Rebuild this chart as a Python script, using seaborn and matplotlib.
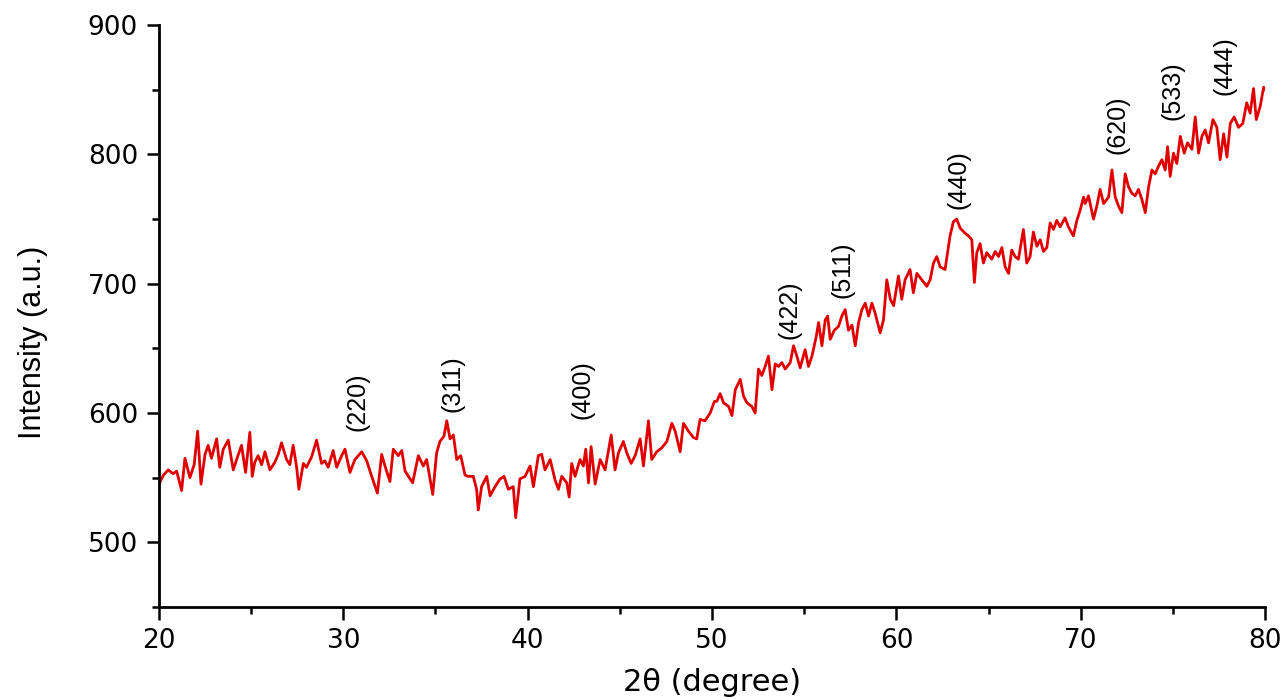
import pandas as pd
import seaborn as sns
import matplotlib.pyplot as plt
from matplotlib import font_manager
from matplotlib.ticker import MultipleLocator, AutoMinorLocator

# XRD pattern (2theta in degree, intensity in a.u.)
two_theta = [
    20.0, 20.25, 20.5, 20.77, 20.96, 21.23, 21.41, 21.68, 21.91, 22.1, 22.28, 22.5, 22.67, 22.85,
    23.13, 23.3, 23.49, 23.76, 24.03, 24.26, 24.48, 24.7, 24.93, 25.06, 25.2, 25.38, 25.57, 25.75,
    26.02, 26.29, 26.47, 26.65, 26.92, 27.1, 27.28, 27.47, 27.59, 27.83, 28.0, 28.28, 28.55, 28.82,
    29.0, 29.18, 29.45, 29.64, 29.91, 30.09, 30.36, 30.63, 31.0, 31.27, 31.54, 31.85, 32.08, 32.26,
    32.53, 32.71, 32.98, 33.17, 33.35, 33.62, 33.76, 34.07, 34.34, 34.52, 34.85, 35.06, 35.24, 35.46,
    35.61, 35.79, 35.97, 36.15, 36.37, 36.6, 36.78, 37.05, 37.23, 37.32, 37.5, 37.78, 37.96, 38.23,
    38.5, 38.72, 38.95, 39.22, 39.35, 39.58, 39.86, 40.13, 40.31, 40.58, 40.76, 40.94, 41.22, 41.49,
    41.67, 41.85, 42.12, 42.25, 42.39, 42.57, 42.84, 43.02, 43.15, 43.3, 43.44, 43.66, 43.93, 44.2,
    44.53, 44.74, 44.92, 45.19, 45.38, 45.61, 45.83, 46.1, 46.28, 46.55, 46.73, 47.0, 47.27, 47.55,
    47.82, 48.0, 48.27, 48.45, 48.72, 48.99, 49.17, 49.35, 49.62, 49.9, 50.13, 50.26, 50.44, 50.62,
    50.9, 51.08, 51.26, 51.53, 51.71, 51.89, 52.16, 52.34, 52.52, 52.7, 52.88, 53.06, 53.25, 53.43,
    53.61, 53.79, 53.97, 54.24, 54.42, 54.6, 54.78, 55.05, 55.23, 55.42, 55.65, 55.78, 55.96, 56.14,
    56.27, 56.41, 56.63, 56.86, 57.04, 57.22, 57.4, 57.59, 57.77, 57.95, 58.13, 58.31, 58.49, 58.67,
    58.85, 59.12, 59.3, 59.48, 59.67, 59.85, 60.11, 60.29, 60.47, 60.74, 60.92, 61.11, 61.38, 61.65,
    61.83, 62.01, 62.19, 62.37, 62.64, 62.91, 63.09, 63.27, 63.46, 63.73, 63.91, 64.09, 64.23, 64.36,
    64.54, 64.72, 64.9, 65.17, 65.36, 65.54, 65.72, 65.9, 66.08, 66.26, 66.44, 66.62, 66.89, 67.07,
    67.25, 67.43, 67.62, 67.8, 67.98, 68.16, 68.34, 68.52, 68.7, 68.88, 69.15, 69.33, 69.6, 69.79,
    69.97, 70.15, 70.24, 70.42, 70.69, 70.87, 71.05, 71.24, 71.51, 71.69, 71.87, 72.05, 72.23, 72.41,
    72.59, 72.77, 72.95, 73.13, 73.32, 73.5, 73.68, 73.86, 74.04, 74.22, 74.4, 74.58, 74.71, 74.85,
    75.03, 75.21, 75.4, 75.61, 75.79, 76.03, 76.21, 76.39, 76.57, 76.75, 76.93, 77.17, 77.38, 77.56,
    77.75, 77.93, 78.11, 78.32, 78.56, 78.79, 79.0, 79.19, 79.37, 79.52, 79.73, 79.92, 80.0,
]
intensity = [
    545, 552, 556, 553, 555, 540, 565, 550, 560, 586, 545, 568, 575, 565,
    580, 558, 572, 579, 556, 566, 575, 554, 585, 551, 562, 567, 560, 570,
    556, 562, 568, 577, 564, 560, 575, 558, 541, 561, 558, 566, 579, 561,
    563, 558, 571, 558, 567, 572, 554, 564, 570, 563, 551, 538, 568, 559,
    547, 572, 567, 571, 555, 549, 546, 567, 559, 564, 537, 569, 578, 582,
    594, 580, 583, 564, 567, 552, 551, 551, 541, 525, 543, 551, 536, 543,
    549, 551, 541, 543, 519, 549, 551, 559, 543, 567, 568, 556, 564, 548,
    541, 551, 546, 535, 561, 551, 564, 559, 572, 546, 574, 545, 564, 556,
    583, 556, 569, 578, 569, 561, 567, 580, 559, 594, 564, 570, 573, 578,
    592, 586, 570, 592, 586, 581, 580, 595, 594, 600, 609, 609, 615, 608,
    605, 598, 618, 626, 613, 608, 605, 600, 634, 629, 636, 644, 618, 638,
    636, 639, 634, 639, 652, 644, 635, 649, 636, 644, 659, 670, 652, 672,
    675, 657, 664, 667, 675, 680, 664, 668, 652, 670, 680, 685, 675, 685,
    677, 662, 672, 703, 688, 683, 706, 688, 703, 711, 693, 708, 703, 698,
    703, 716, 721, 713, 711, 737, 748, 750, 743, 739, 737, 734, 701, 724,
    731, 716, 724, 719, 725, 721, 728, 713, 708, 726, 721, 719, 742, 716,
    721, 740, 729, 734, 725, 728, 747, 742, 749, 744, 751, 744, 737, 749,
    757, 767, 762, 768, 750, 760, 773, 762, 767, 788, 767, 760, 755, 785,
    775, 770, 768, 773, 765, 755, 775, 788, 785, 791, 796, 788, 806, 783,
    801, 793, 814, 801, 809, 804, 829, 801, 814, 819, 809, 827, 821, 796,
    816, 798, 824, 829, 821, 824, 840, 832, 851, 827, 837, 852, 850,
]

# Miller indices of the marked reflections and where their labels sit
peak_labels = ["(220)", "(311)", "(400)", "(422)", "(511)", "(440)", "(620)", "(533)", "(444)"]
peak_pos = [30.75, 35.9, 42.95, 54.2, 57.1, 63.35, 72.0, 75.0, 77.8]
peak_height = [586, 601, 595, 657, 689, 758, 800, 827, 846]

sns.set_style("ticks")
plt.rcParams["font.family"] = ["DejaVu Sans"]
plt.rcParams["axes.labelcolor"] = "black"
plt.rcParams["text.color"] = "black"

available = {f.name for f in font_manager.fontManager.ttflist}
narrow = "Liberation Sans Narrow" if "Liberation Sans Narrow" in available else "Liberation Sans"

df = pd.DataFrame({"two_theta": two_theta, "intensity": intensity})

fig = plt.figure(figsize=(12.87, 7), dpi=100)
ax = fig.add_axes([0.1235, 0.133, 0.8595, 0.831])
sns.lineplot(data=df, x="two_theta", y="intensity", color="#e00000", linewidth=2.0, ax=ax)

for lab, px, py in zip(peak_labels, peak_pos, peak_height):
    ax.text(px, py, lab, rotation=90, ha="center", va="bottom",
            fontsize=18, family=[narrow, "DejaVu Sans"], color="black")

ax.set_xlim(20, 80)
ax.set_ylim(450, 900)
ax.xaxis.set_major_locator(MultipleLocator(10))
ax.xaxis.set_minor_locator(AutoMinorLocator(2))
ax.yaxis.set_major_locator(MultipleLocator(100))
ax.yaxis.set_minor_locator(AutoMinorLocator(2))

sns.despine(ax=ax)
for side in ["left", "bottom"]:
    ax.spines[side].set_linewidth(2)
    ax.spines[side].set_color("black")
ax.tick_params(which="major", direction="out", length=9, width=1.8, colors="black",
               labelsize=19, pad=6)
ax.tick_params(which="minor", direction="out", length=5, width=1.8, colors="black")

ax.set_xlabel("2θ (degree)", fontsize=22, labelpad=10, color="black")
ax.set_ylabel("Intensity (a.u.)", fontsize=22, family=[narrow, "DejaVu Sans"], color="black")
ax.yaxis.set_label_coords(-0.1, 0.455)

fig.savefig("out.png", dpi=100)
